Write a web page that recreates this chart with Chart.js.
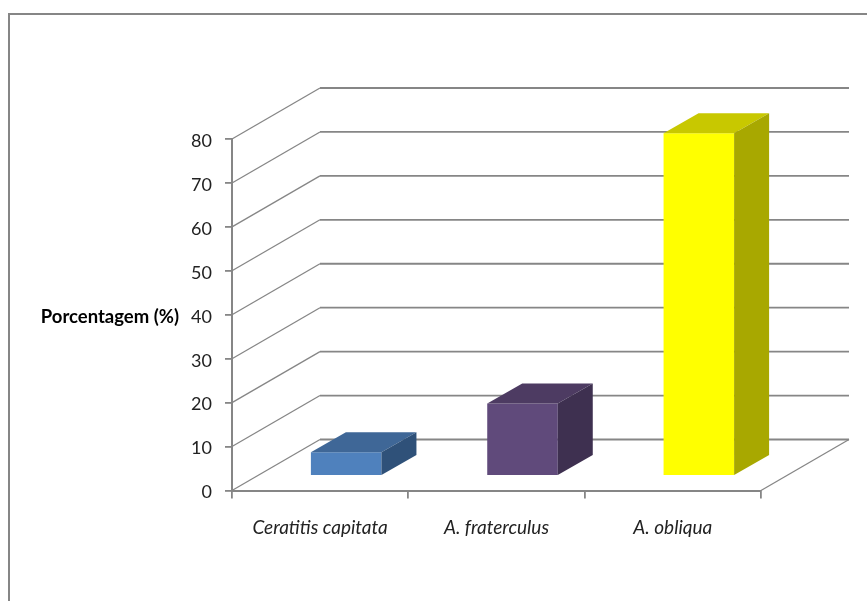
<!DOCTYPE html>
<html>
<head>
<meta charset="utf-8">
<title>Porcentagem</title>
<script src="https://cdn.jsdelivr.net/npm/chart.js@4"></script>
<style>
    html, body { margin: 0; padding: 0; background: #fff; }
    #wrap { position: relative; width: 867px; height: 601px; overflow: hidden; }
    #frame {
        position: absolute; left: 8px; top: 13px; width: 880px; height: 620px;
        border: 2px solid #868686; box-sizing: border-box;
    }
    canvas { position: absolute; left: 0; top: 0; }
</style>
</head>
<body>
<div id="wrap">
    <canvas id="chart" width="867" height="601"></canvas>
    <div id="frame"></div>
</div>
<script>
const categories = ["Ceratitis capitata", "A. fraterculus", "A. obliqua"];
const values = [5.4, 16.5, 78];
const valueTicks = [0, 10, 20, 30, 40, 50, 60, 70, 80];
const axisTitle = "Porcentagem (%)";

const frontColors = ["#4f81bd", "#604a7b", "#ffff00"];
const topColors = ["#3f6797", "#4d3b62", "#c8c800"];
const sideColors = ["#2f5179", "#3e3050", "#a8a800"];

const lineColor = "#868686";
const fontFamily = "Lato, 'Open Sans', sans-serif";

// how far the back wall sits behind the axes, and how far the bars sit in / how deep they are
const wallDepth = { x: 88, y: 51 };
const barInset = { x: 26, y: 14.5 };
const barDepth = { x: 35, y: 20 };

function drawFace(ctx, color, points) {
    ctx.fillStyle = color;
    ctx.beginPath();
    points.forEach(([x, y], i) => (i ? ctx.lineTo(x, y) : ctx.moveTo(x, y)));
    ctx.closePath();
    ctx.fill();
}

const box3d = {
    id: "box3d",

    // back wall, floor and the horizontal title
    beforeDatasetsDraw(chart) {
        const { ctx, scales: { y }, chartArea: { left, right, bottom } } = chart;
        ctx.save();
        ctx.strokeStyle = lineColor;

        valueTicks.forEach(v => {
            const py = y.getPixelForValue(v);
            ctx.lineWidth = 1.3;
            ctx.beginPath();
            ctx.moveTo(left, py);
            ctx.lineTo(left + wallDepth.x, py - wallDepth.y);
            ctx.stroke();
            ctx.lineWidth = 1.8;
            ctx.beginPath();
            ctx.moveTo(left + wallDepth.x, py - wallDepth.y);
            ctx.lineTo(right + wallDepth.x, py - wallDepth.y);
            ctx.stroke();
        });

        ctx.lineWidth = 1.3;
        ctx.beginPath();
        ctx.moveTo(right, bottom);
        ctx.lineTo(right + wallDepth.x, bottom - wallDepth.y);
        ctx.stroke();

        ctx.fillStyle = "#000";
        ctx.font = "bold 18.5px " + fontFamily;
        ctx.textAlign = "right";
        ctx.textBaseline = "middle";
        ctx.fillText(axisTitle, 179, y.getPixelForValue(40) + 2);
        ctx.restore();
    },

    // bars stand a little way in from the front edge of the floor
    beforeDatasetDraw(chart) {
        chart.ctx.save();
        chart.ctx.translate(barInset.x, -barInset.y);
    },

    afterDatasetDraw(chart, args) {
        const ctx = chart.ctx;
        args.meta.data.forEach((bar, i) => {
            const { x, y, base, width } = bar.getProps(["x", "y", "base", "width"], true);
            const l = x - width / 2;
            const r = x + width / 2;
            drawFace(ctx, topColors[i], [
                [l, y], [r, y], [r + barDepth.x, y - barDepth.y], [l + barDepth.x, y - barDepth.y]
            ]);
            drawFace(ctx, sideColors[i], [
                [r, y], [r + barDepth.x, y - barDepth.y], [r + barDepth.x, base - barDepth.y], [r, base]
            ]);
        });
        ctx.restore();
    }
};

new Chart(document.getElementById("chart"), {
    type: "bar",
    data: {
        labels: categories,
        datasets: [{
            label: axisTitle,
            data: values,
            backgroundColor: frontColors,
            barPercentage: 0.4,
            categoryPercentage: 1
        }]
    },
    options: {
        responsive: false,
        animation: false,
        layout: { padding: { left: 0, right: 106, top: 139, bottom: 0 } },
        plugins: { legend: { display: false }, title: { display: false }, tooltip: { enabled: false } },
        scales: {
            x: {
                afterFit(scale) { scale.height = 110.5; },
                grid: { drawOnChartArea: false, color: lineColor, tickColor: lineColor, tickLength: 8, lineWidth: 1.8 },
                border: { color: lineColor, width: 2 },
                ticks: {
                    color: "#222",
                    maxRotation: 0,
                    padding: 18,
                    font: { family: fontFamily, size: 19, style: "italic" }
                }
            },
            y: {
                min: 0,
                max: 80,
                afterFit(scale) { scale.width = 232; },
                afterBuildTicks(scale) { scale.ticks = valueTicks.map(value => ({ value })); },
                grid: { drawOnChartArea: false, color: lineColor, tickColor: lineColor, tickLength: 7, lineWidth: 1.8 },
                border: { color: lineColor, width: 2 },
                ticks: {
                    color: "#222",
                    padding: 13,
                    labelOffset: 2,
                    font: { family: fontFamily, size: 18 }
                }
            }
        }
    },
    plugins: [box3d]
});
</script>
</body>
</html>
